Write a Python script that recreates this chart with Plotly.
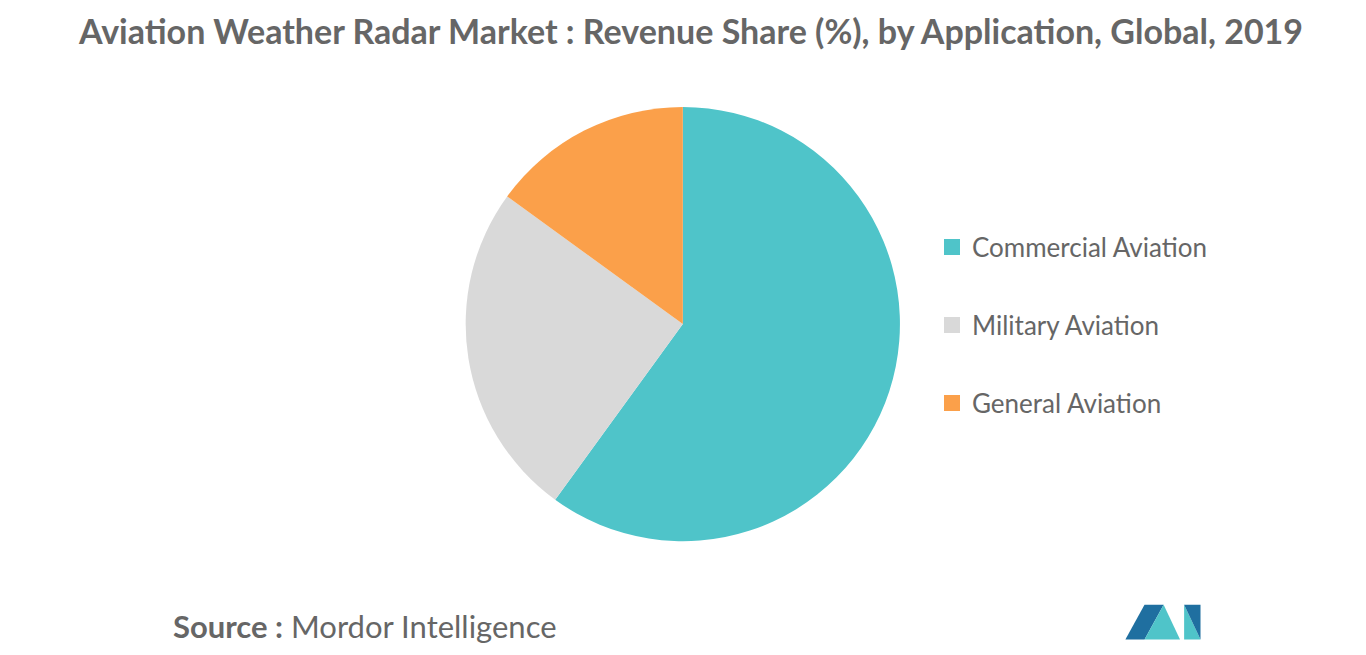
import plotly.graph_objects as go

labels = ["Commercial Aviation", "Military Aviation", "General Aviation"]
shares = [60, 25, 15]
colors = ["#4fc4c9", "#d9d9d9", "#fba04a"]

fig = go.Figure(go.Pie(
    labels=labels, values=shares, sort=False, direction="clockwise", rotation=0,
    marker=dict(colors=colors), textinfo="none", hoverinfo="label+percent",
    showlegend=False,
    domain=dict(x=[0.294, 0.694], y=[0.186, 0.849]),
))

W, H = 1366, 655
ann = [dict(text="<b>Source :</b> Mordor Intelligence", x=163 / W, y=1 - 618 / H,
            xref="paper", yref="paper", xanchor="left", yanchor="middle",
            showarrow=False, font=dict(size=31, color="#666666"))]
# legend built from the label list
for i, (lab, col) in enumerate(zip(labels, colors)):
    yc = 239 + 78 * i
    fig.add_shape(type="rect", xref="paper", yref="paper",
                  x0=936 / W, x1=952 / W, y0=1 - (yc + 8) / H, y1=1 - (yc - 8) / H,
                  fillcolor=col, line_width=0)
    ann.append(dict(text=lab, x=962 / W, y=1 - yc / H, xref="paper", yref="paper",
                    xanchor="left", yanchor="middle", showarrow=False,
                    font=dict(size=26, color="#666666")))

fig.update_layout(
    width=W, height=H, paper_bgcolor="white", plot_bgcolor="white",
    margin=dict(l=0, r=0, t=0, b=0),
    font=dict(family="Lato, sans-serif", color="#555555"),
    title=dict(text="<b>Aviation Weather Radar Market : Revenue Share (%), by Application, Global, 2019</b>",
               x=0.5, xanchor="center", y=1 - 24 / H, yanchor="middle",
               font=dict(size=34, color="#666666")),
    annotations=ann,
)

# simple logo
fig.add_shape(type="path", xref="paper", yref="paper",
              path="M 0.818 0.036 L 0.832 0.089 L 0.846 0.089 L 0.832 0.036 Z",
              fillcolor="#1f6fa0", line_width=0)
fig.add_shape(type="path", xref="paper", yref="paper",
              path="M 0.832 0.036 L 0.846 0.089 L 0.858 0.036 Z",
              fillcolor="#4fc4c9", line_width=0)
fig.add_shape(type="path", xref="paper", yref="paper",
              path="M 0.861 0.036 L 0.861 0.089 L 0.873 0.036 Z",
              fillcolor="#4fc4c9", line_width=0)
fig.add_shape(type="path", xref="paper", yref="paper",
              path="M 0.861 0.089 L 0.873 0.036 L 0.873 0.089 Z",
              fillcolor="#1f6fa0", line_width=0)

fig.write_html("out.html")
